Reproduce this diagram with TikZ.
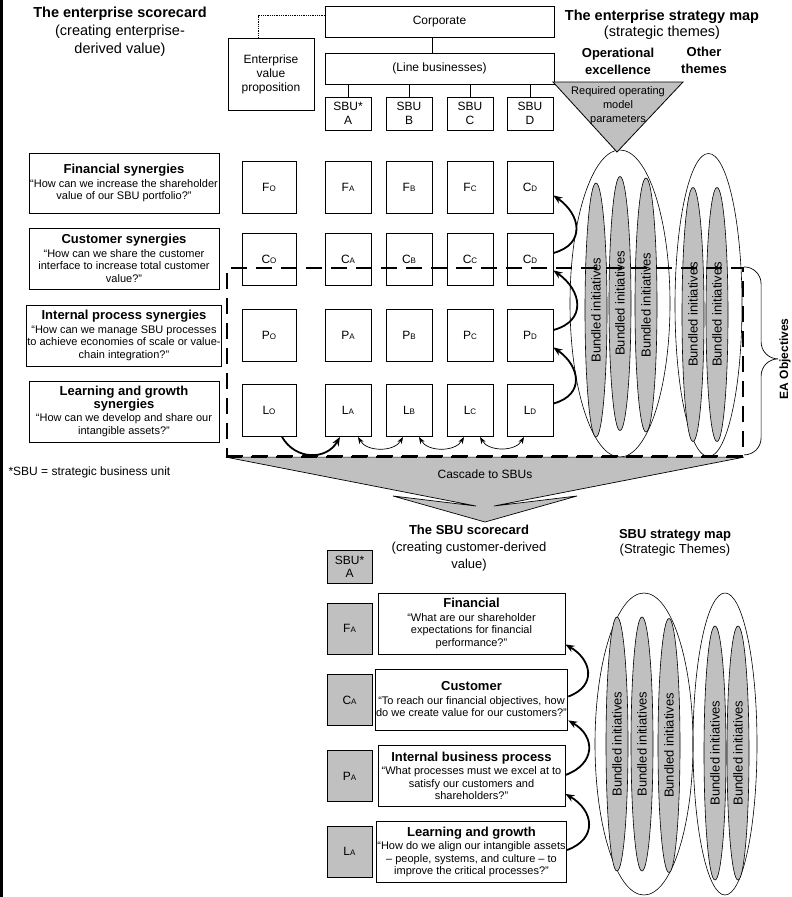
\documentclass[tikz,border=0pt]{standalone}
\usepackage{fontspec}
\setmainfont{Liberation Sans}
\usetikzlibrary{arrows.meta,positioning,shapes.geometric}

\definecolor{boxgray}{RGB}{192,192,192}
\newcommand{\lo}[1]{{\fontsize{8}{8}\selectfont #1}}
\newcommand{\hd}{\fontsize{13}{15}\selectfont\bfseries}

\tikzset{
  box/.style={draw, line width=0.8pt, inner sep=1pt, align=center, font=\fontsize{12}{13.5}\selectfont},
  cell/.style={box, minimum width=46pt, minimum height=52pt},
  ocell/.style={cell, minimum width=54pt},
  sbubox/.style={box, minimum width=46pt, minimum height=33pt},
  qbox/.style={box, minimum width=190pt, minimum height=61pt, font=\fontsize{11}{12.5}\selectfont},
  theme/.style={draw, ellipse, line width=0.6pt, inner sep=0pt},
  bundle/.style={theme, fill=boxgray, rotate=90, minimum width=254pt, minimum height=22pt, font=\fontsize{13}{13}\selectfont},
  link/.style={line width=1.8pt, -{Stealth[length=9pt,width=7pt]}},
  twoway/.style={line width=0.7pt, {Stealth[length=7pt,width=5pt]}-{Stealth[length=7pt,width=5pt]}},
  eabox/.style={draw, line width=2.2pt, dash pattern=on 16pt off 9pt, minimum width=516pt, minimum height=188pt, inner sep=0pt}
}

\begin{document}
\begin{tikzpicture}[x=1pt, y=-1pt]
\useasboundingbox (0,0) rectangle (792,897);
\draw[line width=2.5pt] (1.5,0) -- (1.5,897);

% enterprise level
\node[align=center, font=\fontsize{14.5}{18}\selectfont] (escard) at (120,32) {\textbf{The enterprise scorecard}\\(creating enterprise-\\derived value)};
\node[align=center, font=\fontsize{14.5}{16}\selectfont] (emap) at (662,25) {\textbf{The enterprise strategy map}\\(strategic themes)};
\node[align=center, font=\fontsize{13}{17}\selectfont\bfseries] (opex) at (618,61) {Operational\\excellence};
\node[align=center, font=\fontsize{13}{17}\selectfont\bfseries] (other) at (704,60) {Other\\themes};

\node[box, minimum width=229pt, minimum height=31pt] (corp) at (439.5,21.5) {Corporate};
\node[box, minimum width=229pt, minimum height=31pt] (lineb) at (439.5,68.5) {(Line businesses)};
\node[box, minimum width=86pt, minimum height=72pt, font=\fontsize{12}{14}\selectfont] (evp) at (271,74) {Enterprise\\value\\proposition};
\foreach \s/\x/\lab in {A/348/SBU*, B/409/SBU, C/470/SBU, D/530/SBU}
  \node[sbubox] (sbu\s) at (\x,113.5) {\lab\\\s};
\draw[line width=0.8pt] ([xshift=-7pt]corp.south) -- ([xshift=-7pt]lineb.north);
\foreach \s in {A,B,C,D}
  \draw[line width=0.8pt] (lineb.south -| sbu\s.north) -- (sbu\s.north);
\draw[densely dotted, line width=0.8pt] ([xshift=-13pt]evp.north) |- ([yshift=6pt]corp.west);

\node[qbox, minimum height=60pt] (qF) at (124,183) {{\hd Financial synergies}\\[1pt]“How can we increase the shareholder\\value of our SBU portfolio?”};
\node[qbox] (qC) at (124,258.5) {{\hd Customer synergies}\\[1pt]“How can we share the customer\\interface to increase total customer\\value?”};
\node[qbox] (qP) at (124,335.5) {{\hd Internal process synergies}\\[1pt]“How can we manage SBU processes\\to achieve economies of scale or value-\\chain integration?”};
\node[qbox] (qL) at (124,411.5) {{\hd Learning and growth}\\{\hd synergies}\\[1pt]“How can we develop and share our\\intangible assets?”};

\foreach \rw/\y/\lt/\dl in {f/187/F/C, c/259/C/C, p/335/P/P, l/410.5/L/L} {
  \node[ocell] (\rw O) at (269,\y) {\lt\lo{O}};
  \foreach \s/\x in {A/348, B/409, C/470}
    \node[cell] (\rw\s) at (\x,\y) {\lt\lo{\s}};
  \node[cell] (\rw D) at (530,\y) {\dl\lo{D}};
}

% strategic themes
\node[theme, minimum width=100pt, minimum height=307pt] (opexT) at (620,303.5) {};
\node[theme, minimum width=67pt, minimum height=303pt] (otherT) at (708.5,305) {};
\draw[fill=boxgray, line width=0.8pt] (553,82) -- (683,82) -- (617,152) -- cycle;
\node[align=center, font=\fontsize{11}{14}\selectfont] (rop) at (618,106) {Required operating\\model\\parameters};
\foreach \n/\x/\y in {1/596/310, 2/620/303.5, 3/646/305, 4/693/314.5, 5/717/314.5}
  \node[bundle] (bi\n) at (\x,\y) {Bundled initiatives};

\draw[link] ([yshift=6pt]cD.east) to[out=15,in=-35,looseness=1.5] ([yshift=18pt]fD.south east);
\draw[link] ([yshift=5pt]pD.east) to[out=15,in=-35,looseness=1.5] ([yshift=15pt]cD.south east);
\draw[link] ([yshift=7pt]lD.east) to[out=15,in=-35,looseness=1.5] ([yshift=14pt]pD.south east);
\draw[link] ([xshift=13pt]lO.south) to[out=-60,in=-120,looseness=1.2] ([xshift=-8pt]lA.south);
\foreach \a/\b in {A/B, B/C, C/D}
  \draw[twoway] ([xshift=10pt]l\a.south) to[out=-60,in=-120] ([xshift=-6pt]l\b.south);

% cascade
\node[eabox] (ea) at (485,362) {};
\draw[fill=boxgray, line width=0.7pt] (ea.south west) -- (476,506) -- (393,496) -- (485,522) -- (577,496) -- (494,506) -- (ea.south east) -- cycle;
\draw[line width=2.2pt, dash pattern=on 16pt off 9pt] (ea.south west) -- (ea.south east);
\node[font=\fontsize{12}{12}\selectfont] (casc) at (485,474) {Cascade to SBUs};
\draw[line width=0.7pt] (ea.north east) to[out=0,in=90] ++(17,17) -- ++(0,58) to[out=-90,in=180] ++(17,17) coordinate (tip)
  to[out=180,in=90] ++(-17,17) -- ++(0,62) to[out=-90,in=0] ++(-17,17);
\node[rotate=90, anchor=north, inner sep=0.5pt, font=\fontsize{12}{12}\selectfont\bfseries] (eaobj) at ([xshift=0.5pt]tip) {EA Objectives};
\node[anchor=west, font=\fontsize{12}{12}\selectfont] (note) at (5,472) {*SBU = strategic business unit};

% SBU level
\node[align=center, font=\fontsize{13}{17}\selectfont] (sbucard) at (469,548) {\textbf{The SBU scorecard}\\(creating customer-derived\\value)};
\node[align=center, font=\fontsize{13}{15}\selectfont] (sbumap) at (675,543) {\textbf{SBU strategy map}\\(Strategic Themes)};
\node[sbubox, fill=boxgray, minimum width=45pt] (sbuX) at (349.5,567) {SBU*\\A};
\foreach \rw/\y in {F/628.5, C/700, P/776, L/851.5}
  \node[cell, fill=boxgray, minimum width=45pt, minimum height=51pt] (s\rw) at (349.5,\y) {\rw\lo{A}};

\node[qbox, minimum width=187pt] (tF) at (471.5,623.5) {{\hd Financial}\\[1pt]“What are our shareholder\\expectations for financial\\performance?”};
\node[qbox, minimum width=187pt] (tC) at (471.5,699.5) {{\hd Customer}\\[1pt]“To reach our financial objectives, how\\do we create value for our customers?”};
\node[qbox, minimum width=187pt] (tP) at (471.5,776) {{\hd Internal business process}\\[1pt]“What processes must we excel at to\\satisfy our customers and\\shareholders?”};
\node[qbox, minimum width=187pt] (tL) at (471.5,852) {{\hd Learning and growth}\\[1pt]“How do we align our intangible assets\\– people, systems, and culture – to\\improve the critical processes?”};
\draw[link] ([yshift=3pt]tC.east) to[out=20,in=-30,looseness=1.5] ([yshift=10pt]tF.south east);
\draw[link] ([yshift=1pt]tP.east) to[out=20,in=-30,looseness=1.5] ([yshift=10pt]tC.south east);
\draw[link] ([yshift=2pt]tL.east) to[out=20,in=-30,looseness=1.5] ([yshift=13pt]tP.south east);

\node[theme, minimum width=98pt, minimum height=302pt] (opexB) at (644,744) {};
\node[theme, minimum width=64pt, minimum height=302pt] (otherB) at (725,744) {};
\foreach \n/\x/\y in {6/617/744, 7/642/744, 8/669/745.5, 9/715/753, 10/738/753}
  \node[bundle] (bi\n) at (\x,\y) {Bundled initiatives};
\end{tikzpicture}
\end{document}
